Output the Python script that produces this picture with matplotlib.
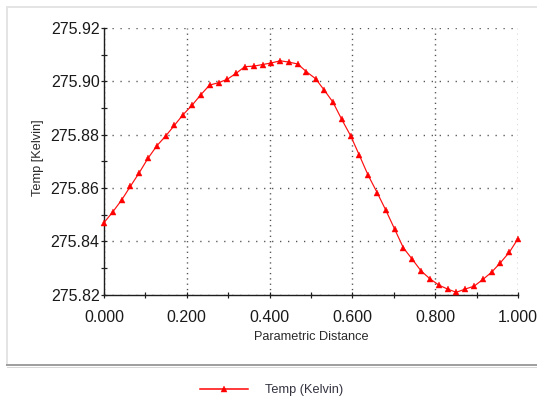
import matplotlib
matplotlib.use("Agg")
import matplotlib.pyplot as plt
from matplotlib.ticker import MultipleLocator, FormatStrFormatter
from matplotlib.lines import Line2D

plt.rcParams['font.family'] = ['Liberation Sans', 'DejaVu Sans']

# ---- data ----
distance = [0.000, 0.021, 0.043, 0.064, 0.085, 0.106, 0.128, 0.149, 0.170, 0.191,
            0.213, 0.234, 0.255, 0.277, 0.298, 0.319, 0.340, 0.362, 0.383, 0.404,
            0.426, 0.447, 0.468, 0.489, 0.511, 0.532, 0.553, 0.574, 0.596, 0.617,
            0.638, 0.660, 0.681, 0.702, 0.723, 0.745, 0.766, 0.787, 0.809, 0.830,
            0.851, 0.872, 0.894, 0.915, 0.936, 0.957, 0.979, 1.000]
temp = [275.8470, 275.8510, 275.8556, 275.8607, 275.8657, 275.8711, 275.8759, 275.8795,
        275.8835, 275.8875, 275.8911, 275.8950, 275.8986, 275.8995, 275.9008, 275.9030,
        275.9055, 275.9057, 275.9063, 275.9069, 275.9077, 275.9072, 275.9065, 275.9036,
        275.9010, 275.8967, 275.8922, 275.8858, 275.8795, 275.8722, 275.8648, 275.8582,
        275.8516, 275.8446, 275.8376, 275.8332, 275.8289, 275.8260, 275.8236, 275.8221,
        275.8209, 275.8221, 275.8232, 275.8257, 275.8284, 275.8319, 275.8359, 275.8410]
series_label = "Temp (Kelvin)"
x_label = "Parametric Distance"
y_label = "Temp [Kelvin]"

W, H = 537, 401
fig = plt.figure(figsize=(W / 100, H / 100), dpi=100)
px = 0.72  # one pixel in points

# panel border
fig.add_artist(Line2D([7 / W, 7 / W], [1 - 7 / H, 1 - 365 / H], color='#e4e4e4', lw=2 * px))
fig.add_artist(Line2D([7 / W, 1], [1 - 7 / H, 1 - 7 / H], color='#e4e4e4', lw=2 * px))
fig.add_artist(Line2D([7 / W, 1], [1 - 365 / H, 1 - 365 / H], color='#a0a0a0', lw=2 * px))
fig.add_artist(Line2D([7 / W, 1], [1 - 366.8 / H, 1 - 366.8 / H], color='#d8d8d8', lw=1 * px))

left, right, top, bottom = 104, 518, 28, 294.7
ax = fig.add_axes([left / W, 1 - bottom / H, (right - left) / W, (bottom - top) / H])

line, = ax.plot(distance, temp, color='#ff1010', lw=1.2 * px, marker='^', ms=5.0,
                mec='#ff0000', mfc='#ff0000', mew=0.3, label=series_label,
                clip_on=False, zorder=3)

ax.set_xlim(0, 1.0)
ax.set_ylim(275.82, 275.92)
ax.xaxis.set_major_locator(MultipleLocator(0.2))
ax.xaxis.set_minor_locator(MultipleLocator(0.1))
ax.yaxis.set_major_locator(MultipleLocator(0.02))
ax.yaxis.set_minor_locator(MultipleLocator(0.01))
ax.xaxis.set_major_formatter(FormatStrFormatter('%.3f'))
ax.yaxis.set_major_formatter(FormatStrFormatter('%.2f'))

for s in ('top', 'right'):
    ax.spines[s].set_visible(False)
for s in ('left', 'bottom'):
    ax.spines[s].set_color('#1e1e1e')
    ax.spines[s].set_linewidth(1.4 * px)

ax.tick_params(which='both', direction='inout', length=6 * px, width=1.2 * px,
               color='#1e1e1e', labelsize=11.5, labelcolor='#1a1a1a')
ax.tick_params(axis='x', which='major', pad=8.5)
ax.tick_params(axis='y', which='major', pad=1)

ax.yaxis.grid(True, which='major', color='#505050', lw=1.4 * px, linestyle=(0, (0.9, 4.8)))
ax.xaxis.grid(True, which='major', color='#505050', lw=1.4 * px, linestyle=(0, (0.9, 2.9)))
ax.set_axisbelow(True)

ax.set_xlabel(x_label, fontsize=9.2, color='#2a2a2a')
ax.xaxis.set_label_coords(0.5, (bottom - 337.5) / (bottom - top))
ax.xaxis.label.set_va('center')
ax.set_ylabel(y_label, fontsize=9.2, color='#2a2a2a')
ax.yaxis.set_label_coords((37.5 - left) / (right - left), (bottom - 158) / (bottom - top))
ax.yaxis.label.set_va('center')

leg_handle = Line2D([], [], color='#ff0000', lw=1.5 * px, marker='^', ms=4.6,
                    mec='#ff0000', mfc='#ff0000', mew=0.3)
leg = fig.legend(handles=[leg_handle], labels=[series_label], loc='center left',
                 bbox_to_anchor=(200 / W, 1 - 390.5 / H), frameon=False,
                 borderpad=0, borderaxespad=0, handlelength=3.75, handletextpad=1.3,
                 numpoints=1, prop={'size': 9.2})
for t in leg.get_texts():
    t.set_color('#333340')

fig.savefig('out.png', dpi=100, facecolor='white')
